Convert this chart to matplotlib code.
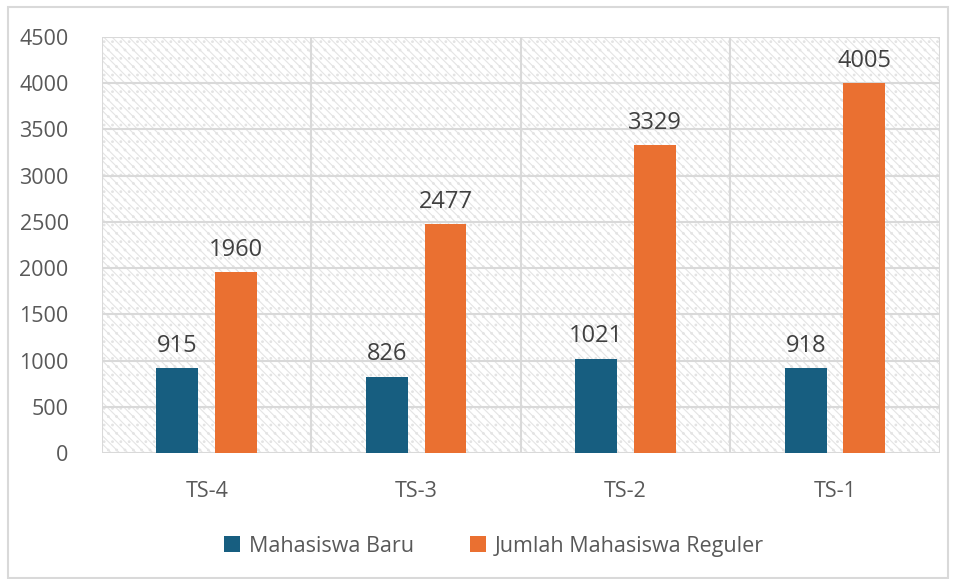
import numpy as np
import matplotlib.pyplot as plt
from matplotlib.patches import Rectangle

categories = ['TS-4', 'TS-3', 'TS-2', 'TS-1']
mahasiswa_baru = [915, 826, 1021, 918]
jumlah_reguler = [1960, 2477, 3329, 4005]
series_names = ['Mahasiswa Baru', 'Jumlah Mahasiswa Reguler']

plt.rcParams['font.family'] = ['Open Sans', 'DejaVu Sans']
plt.rcParams['hatch.linewidth'] = 0.8

fig = plt.figure(figsize=(9.57, 5.79), dpi=100)
fig.patch.set_facecolor('white')
# outer border of the chart
fig.add_artist(Rectangle((8 / 957, 1 - 578 / 579), 940 / 957, 571 / 579,
                         transform=fig.transFigure, fill=False,
                         edgecolor='#d9d9d9', linewidth=1.5))

ax = fig.add_axes([0.1066, 0.2176, 0.8754, 0.7184])

x = np.arange(len(categories))
w = 0.2
off = 0.14

# hatched plot background (light dotted diagonal)
ax.add_patch(Rectangle((-0.5, 0), 4, 4500, facecolor='white',
                       edgecolor='#e4e4e4', hatch='\\\\\\\\..', linewidth=0, zorder=0))

b1 = ax.bar(x - off, mahasiswa_baru, w, color='#175e80', label=series_names[0], zorder=3)
b2 = ax.bar(x + off, jumlah_reguler, w, color='#ea7031', label=series_names[1], zorder=3)

for bars in (b1, b2):
    for rect in bars:
        h = rect.get_height()
        ax.text(rect.get_x() + rect.get_width() / 2, h + 110, f'{int(h)}',
                ha='center', va='bottom', fontsize=17, color='#404040', zorder=4)

ax.set_xlim(-0.5, 3.5)
ax.set_ylim(0, 4500)
ax.set_yticks(range(0, 4501, 500))
ax.set_xticks(x)
ax.set_xticklabels(categories)
ax.tick_params(axis='both', length=0, labelsize=15.5, colors='#595959')
ax.tick_params(axis='y', pad=24)
ax.tick_params(axis='x', pad=20)

ax.grid(axis='y', color='#d9d9d9', linewidth=1.5, zorder=1)
for xv in np.arange(-0.5, 4, 1):
    ax.axvline(xv, color='#d9d9d9', linewidth=1.5, zorder=1)
ax.set_axisbelow(True)
for s in ax.spines.values():
    s.set_visible(False)

fig.legend(loc='lower center', bbox_to_anchor=(0.516, 0.005), ncol=2, frameon=False,
           fontsize=15.5, handlelength=0.75, handleheight=0.75, columnspacing=2.6,
           handletextpad=0.4, labelcolor='#595959')

fig.savefig('out.png', dpi=100)
